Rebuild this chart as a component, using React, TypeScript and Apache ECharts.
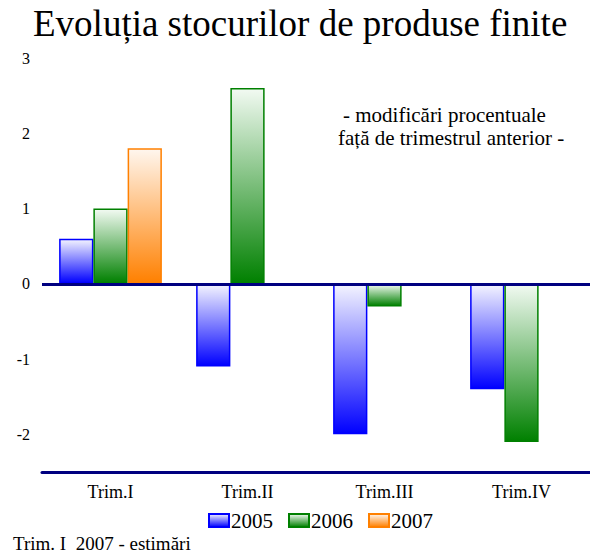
import React, { useEffect, useRef } from "react";
import * as echarts from "echarts";

const categories = ["Trim.I", "Trim.II", "Trim.III", "Trim.IV"];
const seriesNames = ["2005", "2006", "2007"];
const values2005 = [0.6, -1.1, -2.0, -1.4];
const values2006 = [1.0, 2.6, -0.3, -2.1];
const values2007: (number | null)[] = [1.8, null, null, null];
const colors = ["#0000FF", "#008000", "#FF8000"];
const topColors = ["#F4F4FF", "#F2FAF2", "#FFF6EE"];

const FONT = "'Liberation Serif', 'Times New Roman', serif";

export default function App() {
  const ref = useRef<HTMLDivElement>(null);
  useEffect(() => {
    if (!ref.current) return;
    const chart = echarts.init(ref.current, undefined, { renderer: "svg" });
    const allValues = [values2005, values2006, values2007];
    const series: any[] = allValues.map((vals, i) => ({
      name: seriesNames[i],
      type: "bar",
      data: vals,
      barGap: "0%",
      barCategoryGap: "25%",
      itemStyle: {
        color: new echarts.graphic.LinearGradient(0, 0, 0, 1, [
          { offset: 0, color: topColors[i] },
          { offset: 1, color: colors[i] },
        ]),
        borderColor: colors[i],
        borderWidth: 1.5,
      },
      ...(i === 0
        ? {
            markLine: {
              silent: true,
              symbol: "none",
              label: { show: false },
              lineStyle: { color: "#000080", width: 3, type: "solid" },
              data: [{ yAxis: 0 }],
              z: 10,
            },
          }
        : {}),
    }));
    chart.setOption({
      animation: false,
      textStyle: { fontFamily: FONT },
      title: {
        text: "Evoluția stocurilor de produse finite",
        left: 33,
        top: 5,
        padding: 0,
        textStyle: { fontFamily: FONT, fontSize: 37, fontWeight: "normal", color: "#000" },
      },
      grid: { left: 42, right: 0, top: 58, bottom: 82, containLabel: false },
      legend: {
        data: seriesNames,
        left: 208,
        top: 510,
        padding: 0,
        itemWidth: 20,
        itemHeight: 13,
        itemGap: 15,
        icon: "rect",
        textStyle: { fontFamily: FONT, fontSize: 21, color: "#000", padding: [0, 0, 0, -3] },
      },
      xAxis: {
        type: "category",
        data: categories,
        axisLine: { show: true, onZero: false, lineStyle: { color: "#000080", width: 3 } },
        axisTick: { show: false },
        axisLabel: { fontFamily: FONT, fontSize: 18, color: "#000", margin: 11 },
      },
      yAxis: {
        type: "value",
        min: -2.5,
        max: 3,
        interval: 0.5,
        axisLine: { show: false },
        axisTick: { show: false },
        splitLine: { show: false },
        axisLabel: {
          fontFamily: FONT,
          fontSize: 16,
          color: "#000",
          margin: 12,
          formatter: (v: number) => (Math.abs(v - Math.round(v)) < 1e-9 ? String(Math.round(v)) : ""),
        },
      },
      graphic: [
        {
          type: "text",
          left: 343,
          top: 104,
          style: { text: "- modificări procentuale", font: `21px ${FONT}`, fill: "#000" },
        },
        {
          type: "text",
          left: 338,
          top: 127,
          style: { text: "față de trimestrul anterior -", font: `21px ${FONT}`, fill: "#000" },
        },
        {
          type: "text",
          left: 13,
          top: 534,
          style: { text: "Trim. I  2007 - estimări", font: `19px ${FONT}`, fill: "#000" },
        },
      ],
      series,
    });
    return () => chart.dispose();
  }, []);
  return (
    <div
      ref={ref}
      style={{ position: "absolute", left: 0, top: 0, width: 590, height: 554, background: "#fff" }}
    />
  );
}
